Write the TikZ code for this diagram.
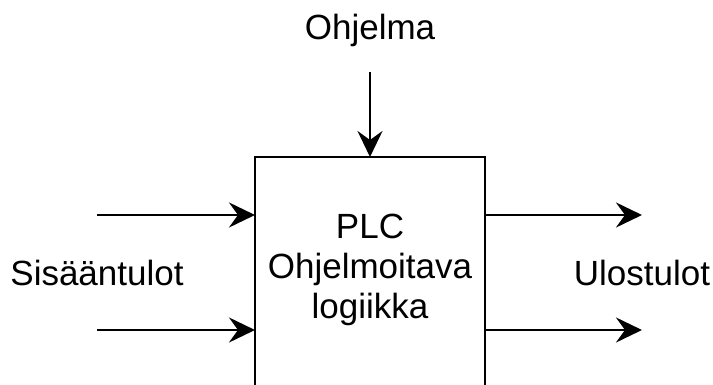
\documentclass[tikz,border=0pt]{standalone}
\usepackage{fontspec}
\setmainfont{Liberation Sans}
\usetikzlibrary{arrows.meta}
\begin{document}
\begin{tikzpicture}[x=1pt,y=-1pt,
  flow/.style={line width=2.6pt,-{Stealth[length=26pt,width=25pt,inset=9pt]}},
  lbl/.style={font=\fontsize{35}{40}\selectfont,inner sep=0pt},
  blockbox/.style={draw,line width=2.6pt}]
  \useasboundingbox (0,0) rectangle (713,385);
  \clip (0,0) rectangle (713,385);
  % main PLC block (runs past the lower edge)
  \draw[blockbox] (255,157) rectangle (485,420);
  \coordinate (plcTop) at (370,157);
  \coordinate (plcIn1) at (255,215);
  \coordinate (plcIn2) at (255,330);
  \coordinate (plcOut1) at (485,215);
  \coordinate (plcOut2) at (485,330);
  \node[lbl,align=center] (plc) at (370,270) {PLC\\Ohjelmoitava\\logiikka};
  % program input from above
  \node[lbl] (prog) at (370,30) {Ohjelma};
  \coordinate (progStart) at (370,72);
  \draw[flow] (progStart) -- (plcTop);
  % inputs
  \node[lbl] (inputs) at (97,273) {Sisääntulot};
  \coordinate (in1) at (97,215);
  \coordinate (in2) at (97,330);
  \draw[flow] (in1) -- (plcIn1);
  \draw[flow] (in2) -- (plcIn2);
  % outputs
  \node[lbl] (outputs) at (642,273) {Ulostulot};
  \coordinate (out1) at (642,215);
  \coordinate (out2) at (642,330);
  \draw[flow] (plcOut1) -- (out1);
  \draw[flow] (plcOut2) -- (out2);
\end{tikzpicture}
\end{document}
